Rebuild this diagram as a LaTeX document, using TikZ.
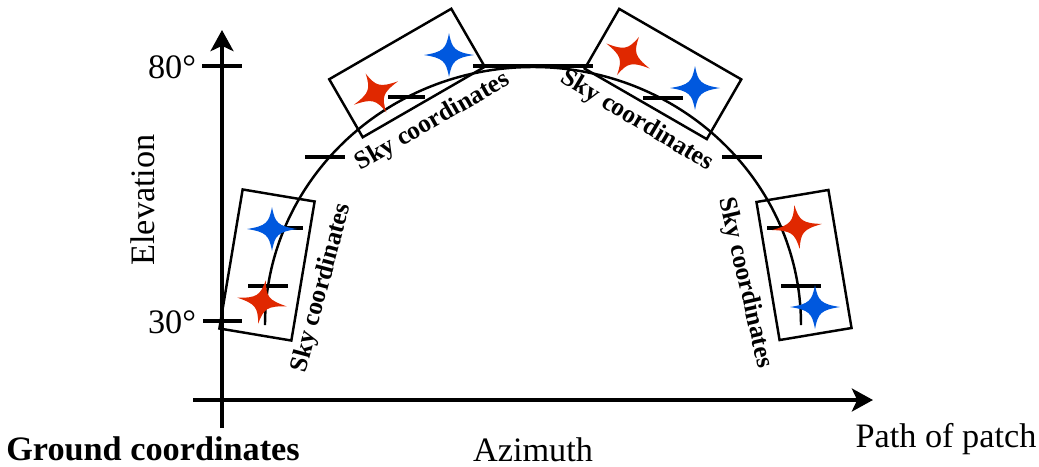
\documentclass[tikz,border=0pt]{standalone}
\usepackage{fontspec}
\setmainfont{Liberation Serif}
\usetikzlibrary{arrows.meta}

\definecolor{starred}{RGB}{224,40,0}
\definecolor{starblue}{RGB}{0,88,222}

% four pointed star: x, y, angle, colour
\newcommand{\skystar}[4]{%
  \fill[#4, shift={(#1,#2)}, rotate=#3] (25,0) .. controls (6,3) and (3,6) .. (0,22)
    .. controls (-3,6) and (-6,3) .. (-25,0) .. controls (-6,-3) and (-3,-6) .. (0,-22)
    .. controls (3,-6) and (6,-3) .. cycle;}

\tikzset{
  big/.style={font=\fontsize{19.5}{23}\selectfont},
  skylbl/.style={font=\fontsize{14.5}{17}\selectfont\bfseries, inner sep=0pt},
  skybox/.style={draw, line width=1.4pt, inner sep=0pt},
  tick/.style={line width=2.3pt}
}

\begin{document}
\begin{tikzpicture}[x=0.02cm, y=-0.02cm]
  \useasboundingbox (0,0) rectangle (1039,467);

  % axes
  \coordinate (ybot) at (222,428);
  \coordinate (ytop) at (222,30);
  \coordinate (xleft) at (193,400);
  \coordinate (xright) at (873,400);
  \begin{scope}[line width=2.3pt]
    \draw[-{Stealth[length=12pt,width=13pt,inset=3pt]}] (ybot) -- (ytop);
    \draw[-{Stealth[length=12pt,width=13pt,inset=3pt]}] (xleft) -- (xright);
    \draw (202,66) -- (242,66);
    \draw (203,321) -- (242,321);
  \end{scope}

  \node[big] (e80) at (172,67) {80°};
  \node[big] (e30) at (172,322) {30°};
  \node[big, rotate=90] (elev) at (143,200) {Elevation};
  \node[big, font=\fontsize{19.5}{23}\selectfont\bfseries] (ground) at (153,449) {Ground coordinates};
  \node[big] (azi) at (533,450) {Azimuth};
  \node[big] (path) at (946,439) {Path of patch};

  % path of the patch
  \draw[line width=1.4pt] (265,325) arc[start angle=-180, end angle=0, x radius=268, y radius=258];

  \begin{scope}[tick]
    \draw (248,286) -- (288,286);
    \draw (268,228) -- (303,228);
    \draw (305,157) -- (345,157);
    \draw (388,97) -- (425,97);
    \draw (473,66) -- (593,66);
    \draw (643,98) -- (683,98);
    \draw (722,157) -- (762,157);
    \draw (767,228) -- (802,228);
    \draw (781,286) -- (821,286);
  \end{scope}

  % boxes
  \node[skybox, minimum width=1.46cm, minimum height=2.82cm, rotate=-9.5] (box1) at (267,265) {};
  \node[skybox, minimum width=2.82cm, minimum height=1.34cm, rotate=30] (box2) at (407,73) {};
  \node[skybox, minimum width=2.82cm, minimum height=1.38cm, rotate=-30] (box3) at (663,74) {};
  \node[skybox, minimum width=1.46cm, minimum height=2.80cm, rotate=9.5] (box4) at (804,265) {};

  \node[skylbl, rotate=75] (lbl1) at (322,288) {Sky coordinates};
  \node[skylbl, rotate=30] (lbl2) at (433,122) {Sky coordinates};
  \node[skylbl, rotate=-31] (lbl3) at (637,121) {Sky coordinates};
  \node[skylbl, rotate=-77] (lbl4) at (745,283) {Sky coordinates};

  % stars
  \skystar{272}{229}{0}{starblue}
  \skystar{262}{302}{-10}{starred}
  \skystar{449}{55}{0}{starblue}
  \skystar{376}{93}{28}{starred}
  \skystar{628}{56}{-30}{starred}
  \skystar{695}{88}{0}{starblue}
  \skystar{797}{227}{7}{starred}
  \skystar{815}{307}{0}{starblue}

\end{tikzpicture}
\end{document}
